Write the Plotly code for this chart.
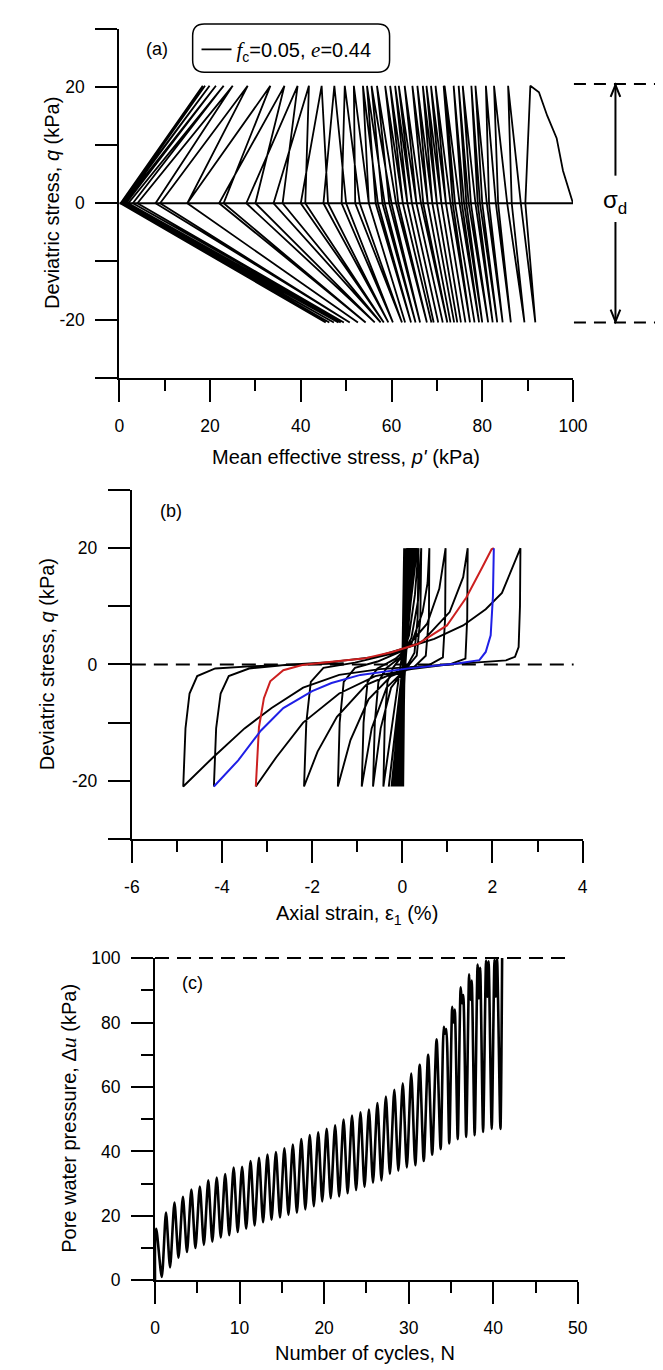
import plotly.graph_objects as go

# ---------------- Panel (a): effective stress path ----------------
iso_p = [0, 100]
iso_q = [0, 0]
p_init = [100, 97.8, 96.4, 94.3, 92.5]
q_init = [0, 5.6, 11.2, 15.1, 19.1]
# p' (kPa) per cycle at q = +20 (top), q = 0 unloading, q = -20 (bottom), q = 0 reloading
p_top = [90.6, 85.7, 82.6, 80.8, 78.5, 77.6, 75.7, 74.8, 73.7, 71.7, 71.5, 69.7, 68.7, 67.7,
         66.9, 65.7, 64.6, 62.9, 61.6, 60.8, 59.7, 58.6, 56.8, 55.6, 54.6, 53.7, 51.7, 49.7,
         47.4, 44.6, 41.8, 39.3, 36.4, 33.3, 28.3, 25.0, 23.0, 21.3, 19.9, 18.9, 18.4]
p_zero_down = [89.5, 86.5, 83.5, 81.5, 80, 79, 77.5, 76.5, 75.5, 74, 73.5, 72, 71, 70, 69, 68,
               67, 65.5, 64.5, 63.5, 62.5, 61.5, 59.5, 58, 56.5, 55, 52, 49, 45, 40, 34, 28,
               22, 15, 9, 4, 2, 1, 0.6, 0.4, 0.3]
p_bot = [91.7, 89.3, 86.3, 84.5, 83.3, 82.3, 81.3, 80.0, 79.3, 78.3, 77.3, 76.3, 75.3, 74.5,
         73.8, 73.0, 72.3, 71.3, 70.3, 69.3, 68.8, 67.8, 66.3, 65.3, 64.3, 63.0, 62.3, 60.3,
         59.3, 58.3, 57.6, 56.3, 54.3, 52.6, 50.8, 49.5, 48.8, 48.3, 47.3, 46.3, 45.5]
p_zero_up = [88.5, 85.5, 83, 81, 79.5, 78.5, 77, 76, 75, 74, 73, 72, 71, 70, 69, 68, 66.5, 65.5,
             64.5, 63.5, 62.5, 61, 60, 58.5, 57, 55, 53, 50, 46, 41, 36, 30, 23, 15, 8, 3, 1.5,
             0.8, 0.5, 0.3, 0.2]
q_top_a, q_bot_a = 20.2, -20.5

# ---------------- Panel (b): q vs axial strain ----------------
eps_max_band = [0.04, 0.07, 0.09, 0.1, 0.11, 0.12, 0.13, 0.13, 0.14, 0.15, 0.15, 0.16, 0.17, 0.17,
                0.18, 0.18, 0.19, 0.2, 0.2, 0.21, 0.21, 0.22, 0.22, 0.23, 0.24, 0.24, 0.25, 0.26,
                0.27, 0.28, 0.29, 0.3, 0.31, 0.33]
eps_min_band = [0.02, 0.01, 0.0, -0.01, -0.02, -0.02, -0.03, -0.03, -0.04, -0.04, -0.05, -0.05,
                -0.06, -0.06, -0.07, -0.07, -0.08, -0.08, -0.09, -0.09, -0.1, -0.1, -0.11, -0.11,
                -0.12, -0.13, -0.14, -0.15, -0.16, -0.18, -0.2, -0.24, -0.3, -0.42]
q_top_b, q_bot_b = 20, -21

L34_e = [-0.42, -0.39, -0.33, -0.2, 0.0, 0.15, 0.28, 0.36]
L34_q = [-21, -10, -3, -0.5, 1.5, 5, 12, 20]
U34_e = [0.36, 0.34, 0.27, 0.05, -0.25, -0.48, -0.65]
U34_q = [20, 8, 2, -1, -4, -11, -21]
L35_e = [-0.65, -0.61, -0.53, -0.35, -0.05, 0.2, 0.35, 0.42]
L35_q = [-21, -10, -3, -0.6, 1.2, 4.5, 11, 20]
U35_e = [0.42, 0.4, 0.32, 0.05, -0.35, -0.68, -0.9]
U35_q = [20, 8, 1.5, -1, -4, -11, -21]
L36_e = [-0.9, -0.86, -0.77, -0.55, -0.15, 0.2, 0.45, 0.56, 0.6]
L36_q = [-21, -10, -3, -0.7, 1.0, 3.5, 9, 14, 20]
U36_e = [0.6, 0.59, 0.52, 0.25, -0.25, -0.75, -1.15, -1.43]
U36_q = [20, 8, 1.5, -0.5, -2, -6, -13, -21]
L37_e = [-1.43, -1.39, -1.3, -1.05, -0.55, 0.05, 0.55, 0.82, 0.96]
L37_q = [-21, -10, -3, -0.6, 0.5, 2.5, 7, 13, 20]
U37_e = [0.96, 0.95, 0.9, 0.55, -0.1, -0.8, -1.45, -1.88, -2.18]
U37_q = [20, 8, 1.2, -0.3, -1.2, -3.5, -9, -15, -21]
L38_e = [-2.18, -2.13, -2.03, -1.75, -1.05, -0.25, 0.45, 1.05, 1.35, 1.45]
L38_q = [-21, -10, -3, -0.6, 0.3, 1.8, 4, 9, 15, 20]
U38_e = [1.45, 1.44, 1.4, 1.05, 0.2, -0.6, -1.4, -2.2, -2.8, -3.25]
U38_q = [20, 8, 1.0, 0, -0.8, -2, -5, -10, -16, -21]
red_e = [-3.25, -3.18, -3.07, -2.93, -2.64, -2.22, -1.57, -0.86, -0.22, 0.35, 0.99, 1.42, 1.78,
         1.98, 2.03]
red_q = [-21, -10.8, -5.8, -2.9, -1.0, -0.1, 0.45, 1.0, 2.15, 3.56, 6.7, 11.5, 16.8, 19.8, 20]
blue_e = [2.03, 2.01, 1.96, 1.85, 1.71, 1.21, 0.14, -0.93, -1.57, -2.0, -2.64, -3.14, -3.64,
          -4.18]
blue_q = [20, 11.7, 5, 2.15, 0.73, 0.17, -0.68, -1.8, -3.2, -4.6, -7.5, -11.4, -16.5, -21]
L40_e = [-4.18, -4.13, -4.03, -3.85, -3.4, -2.6, -1.6, -0.6, 0.14, 0.71, 1.35, 1.85, 2.21, 2.42,
         2.58, 2.62]
L40_q = [-21, -11, -5, -2, -0.7, -0.1, 0.4, 1.3, 3.0, 4.4, 6.7, 9.5, 12.3, 16.4, 19.5, 20]
U40_e = [2.62, 2.61, 2.58, 2.5, 2.3, 1.6, 0.5, -0.5, -1.4, -2.2, -2.9, -3.5, -4.2, -4.86]
U40_q = [20, 10, 3, 1.3, 0.7, 0.3, -0.3, -0.8, -1.8, -4, -7.5, -11, -16, -21]
L41_e = [-4.86, -4.81, -4.72, -4.55, -4.15, -3.3, -2.3, -1.3]
L41_q = [-21, -11, -5, -2, -0.7, -0.3, -0.1, 0.2]
zero_line_e = [-6, 3.8]
zero_line_q = [0, 0]

# ---------------- Panel (c): excess pore pressure vs cycles ----------------
start_N = [0, 0.03]
start_u = [0, 14]
peak_N = [0.15, 1.3, 2.3, 3.3, 4.3, 5.3, 6.3, 7.3, 8.3, 9.3, 10.3, 11.3, 12.3, 13.3, 14.3, 15.3,
          16.3, 17.3, 18.3, 19.3, 20.3, 21.3, 22.3, 23.3, 24.3, 25.3, 26.3, 27.3, 28.3, 29.3,
          30.3, 31.3, 32.3, 33.3]
peak_u = [16, 21, 24.1, 25.9, 28.2, 29.1, 31, 31.9, 33, 35, 35.2, 37, 38, 39, 39.8, 41, 42.1,
          43.8, 45.1, 45.9, 47, 48.1, 49.9, 51.1, 52.1, 53, 55, 57, 59.1, 61.1, 64.2, 66.9, 70,
          74.8]
late_N1 = [34.15, 35.15, 36.15, 37.15, 38.15, 39.15, 40.15]
late_u1 = [78.7, 84.9, 90.9, 95, 98, 99.2, 99.5]
late_Nn = [34.3, 35.3, 36.3, 37.3, 38.3, 39.3, 40.3]
late_un = [76.5, 80, 86, 87, 87.5, 88, 88]
late_N2 = [34.45, 35.45, 36.45, 37.45, 38.45, 39.45, 40.45]
late_u2 = [78, 84, 88.5, 93, 97, 99, 100]
trough_N = [0.8, 1.78, 2.78, 3.78, 4.78, 5.78, 6.78, 7.78, 8.78, 9.78, 10.78, 11.78, 12.78,
            13.78, 14.78, 15.78, 16.78, 17.78, 18.78, 19.78, 20.78, 21.78, 22.78, 23.78, 24.78,
            25.78, 26.78, 27.78, 28.78, 29.78, 30.78, 31.78, 32.78, 33.78, 34.8, 35.8, 36.8,
            37.8, 38.8, 39.82, 40.85]
trough_u = [1, 4, 7, 8.8, 10, 11, 12, 13.3, 14, 15, 16, 17, 18, 18.8, 19.5, 20.3, 21, 22, 23,
            24.5, 25.5, 26, 27, 28, 29, 30.3, 31, 33, 34, 35, 35.7, 37, 39, 40.7, 42.5, 43.8,
            44.5, 45, 46, 47, 47]
end_N = [41.05]
end_u = [100]

# ---------------- build series ----------------
ax_p = list(p_init) + [p_top[0]]
ax_q = list(q_init) + [q_top_a]
for k in range(len(p_top)):
    ax_p += [p_zero_down[k], p_bot[k], p_zero_up[k]]
    ax_q += [0, q_bot_a, 0]
    if k + 1 < len(p_top):
        ax_p.append(p_top[k + 1])
        ax_q.append(q_top_a)

band_e, band_q = [0.0], [0.0]
for mx, mn in zip(eps_max_band, eps_min_band):
    band_e += [mx, mn]
    band_q += [q_top_b, q_bot_b]

black_e, black_q = list(band_e), list(band_q)
for e, q in [(L34_e, L34_q), (U34_e, U34_q), (L35_e, L35_q), (U35_e, U35_q), (L36_e, L36_q),
             (U36_e, U36_q), (L37_e, L37_q), (U37_e, U37_q), (L38_e, L38_q), (U38_e, U38_q)]:
    black_e += e[1:]
    black_q += q[1:]
black2_e = L40_e + U40_e[1:] + L41_e[1:]
black2_q = L40_q + U40_q[1:] + L41_q[1:]

cN, cu = list(start_N), list(start_u)
late = 0
for k in range(len(trough_N)):
    if k < len(peak_N):
        cN.append(peak_N[k]); cu.append(peak_u[k])
    else:
        cN += [late_N1[late], late_Nn[late], late_N2[late]]
        cu += [late_u1[late], late_un[late], late_u2[late]]
        late += 1
    cN.append(trough_N[k]); cu.append(trough_u[k])
cN += end_N
cu += end_u

# ---------------- figure ----------------
W, H = 663, 1370
def px(x):
    return x / W
def py(y):
    return 1 - y / H

FONT = "Liberation Sans, Arial, sans-serif"
TICK = 17.5
TITLE = 20

def it(s, size, serif=False):
    fam = "font-family:'Liberation Serif';" if serif else ""
    return f"<span style=\"{fam}font-style:italic;font-size:{size}px\">{s}</span>"

def sub(s, size, shift=5):
    # subscript via baseline shift (avoids zero-width helper glyphs of <sub>)
    return f"<span style=\"font-size:{size}px;baseline-shift:-{shift}px\">{s}</span>"

fig = go.Figure()

fig.add_trace(go.Scatter(x=iso_p, y=iso_q, mode="lines", line=dict(color="black", width=2),
                         xaxis="x", yaxis="y", showlegend=False, hoverinfo="skip"))
fig.add_trace(go.Scatter(x=ax_p, y=ax_q, mode="lines", line=dict(color="black", width=1.8),
                         xaxis="x", yaxis="y", showlegend=True,
                         name=it("f", 21, True) + sub("c", 14) + "=0.05, " + it("e", 21, True) + "=0.44"))

fig.add_trace(go.Scatter(x=zero_line_e, y=zero_line_q, mode="lines",
                         line=dict(color="black", width=2, dash="14px,8px"),
                         xaxis="x2", yaxis="y2", showlegend=False))
fig.add_trace(go.Scatter(x=black_e, y=black_q, mode="lines", line=dict(color="black", width=1.9),
                         xaxis="x2", yaxis="y2", showlegend=False))
fig.add_trace(go.Scatter(x=black2_e, y=black2_q, mode="lines", line=dict(color="black", width=1.9),
                         xaxis="x2", yaxis="y2", showlegend=False))
fig.add_trace(go.Scatter(x=red_e, y=red_q, mode="lines", line=dict(color="#cc1f1f", width=2),
                         xaxis="x2", yaxis="y2", showlegend=False))
fig.add_trace(go.Scatter(x=blue_e, y=blue_q, mode="lines", line=dict(color="#1f1fe6", width=2),
                         xaxis="x2", yaxis="y2", showlegend=False))

fig.add_trace(go.Scatter(x=cN, y=cu, mode="lines",
                         line=dict(color="black", width=2.6, shape="spline", smoothing=0.7),
                         xaxis="x3", yaxis="y3", showlegend=False))

common = dict(showline=True, linecolor="black", linewidth=2, ticks="outside", tickcolor="black",
              tickwidth=2, showgrid=False, zeroline=False,
              tickfont=dict(family=FONT, size=TICK, color="black"))

def minor(vals, ln):
    return dict(tickmode="array", tickvals=vals, ticks="outside", ticklen=ln, tickwidth=2,
                tickcolor="black", showgrid=False)

fig.update_layout(
    width=W, height=H, margin=dict(l=0, r=0, t=0, b=0),
    paper_bgcolor="white", plot_bgcolor="white",
    font=dict(family=FONT, size=18, color="black"),
    xaxis=dict(domain=[px(107), px(577)], anchor="y", range=[0, 100],
               tickmode="array", tickvals=[0, 20, 40, 60, 80, 100], ticklen=22,
               minor=minor([10, 30, 50, 70, 90], 11), ticklabelstandoff=9, **common),
    yaxis=dict(domain=[py(365), py(11)], anchor="x", range=[-30, 30],
               tickmode="array", tickvals=[-20, 0, 20], ticktext=["-20", "0", "20"], ticklen=22,
               minor=minor([-30, -10, 10, 30], 22), ticklabelstandoff=7, **common),
    xaxis2=dict(domain=[px(120), px(587)], anchor="y2", range=[-6, 4],
                tickmode="array", tickvals=[-6, -4, -2, 0, 2, 4],
                ticktext=["-6", "-4", "-2", "0", "2", "4"], ticklen=22,
                minor=minor([-5, -3, -1, 1, 3], 11), ticklabelstandoff=9, **common),
    yaxis2=dict(domain=[py(833), py(479)], anchor="x2", range=[-30, 30],
                tickmode="array", tickvals=[-20, 0, 20], ticktext=["-20", "0", "20"], ticklen=22,
                minor=minor([-30, -10, 10, 30], 22), ticklabelstandoff=7, **common),
    xaxis3=dict(domain=[px(144), px(582)], anchor="y3", range=[0, 50],
                tickmode="array", tickvals=[0, 10, 20, 30, 40, 50], ticklen=22,
                minor=minor([5, 15, 25, 35, 45], 11), ticklabelstandoff=9, **common),
    yaxis3=dict(domain=[py(1281), py(954)], anchor="x3", range=[0, 100],
                tickmode="array", tickvals=[0, 20, 40, 60, 80, 100], ticklen=22,
                minor=minor([10, 30, 50, 70, 90], 12), ticklabelstandoff=7, **common),
    showlegend=True,
    legend=dict(x=px(187), y=py(12), xanchor="left", yanchor="top", bgcolor="rgba(0,0,0,0)",
                borderwidth=0, font=dict(family=FONT, size=20, color="black"),
                itemwidth=30, tracegroupgap=0),
)

# rounded legend frame
bx0, bx1, by0, by1, r = 183, 387, 6, 55, 12
path = (f"M {px(bx0 + r)},{py(by0)} L {px(bx1 - r)},{py(by0)} Q {px(bx1)},{py(by0)} {px(bx1)},{py(by0 + r)} "
        f"L {px(bx1)},{py(by1 - r)} Q {px(bx1)},{py(by1)} {px(bx1 - r)},{py(by1)} "
        f"L {px(bx0 + r)},{py(by1)} Q {px(bx0)},{py(by1)} {px(bx0)},{py(by1 - r)} "
        f"L {px(bx0)},{py(by0 + r)} Q {px(bx0)},{py(by0)} {px(bx0 + r)},{py(by0)} Z")
shapes = [dict(type="path", path=path, xref="paper", yref="paper", line=dict(color="black", width=1.5))]

# sigma_d dashed reference lines (q = +/-20.5 in panel a)
for yy in (67, 309):
    shapes.append(dict(type="line", xref="paper", yref="paper", x0=px(578), x1=px(663), y0=py(yy), y1=py(yy),
                       line=dict(color="black", width=2, dash="12px,8px")))
# sigma_d double arrow (shafts + open heads)
ax_x = 621
for y0, y1 in ((68, 160), (207, 308)):
    shapes.append(dict(type="line", xref="paper", yref="paper", x0=px(ax_x), x1=px(ax_x), y0=py(y0), y1=py(y1),
                       line=dict(color="black", width=2)))
shapes.append(dict(type="path", xref="paper", yref="paper",
                   path=f"M {px(ax_x - 5)},{py(80)} L {px(ax_x)},{py(68)} L {px(ax_x + 5)},{py(80)}",
                   line=dict(color="black", width=2)))
shapes.append(dict(type="path", xref="paper", yref="paper",
                   path=f"M {px(ax_x - 5)},{py(296)} L {px(ax_x)},{py(308)} L {px(ax_x + 5)},{py(296)}",
                   line=dict(color="black", width=2)))
# panel (c) dashed line at 100 kPa
shapes.append(dict(type="line", xref="paper", yref="paper", x0=px(144), x1=px(572), y0=py(954), y1=py(954),
                   line=dict(color="black", width=2, dash="14px,8px")))

ann = []
def txt(x, y, s, size=18, angle=0, family=FONT):
    ann.append(dict(x=px(x), y=py(y), xref="paper", yref="paper", text=s, showarrow=False,
                    textangle=angle, xanchor="center", yanchor="middle",
                    font=dict(family=family, size=size, color="black")))

txt(146, 31, "(a)")
txt(161, 500, "(b)")
txt(183, 979, "(c)")
txt(621, 187, "σ" + sub("d", 17, 6), size=24)
txt(38, 188, "Deviatric stress, " + it("q", TITLE) + " (kPa)", size=TITLE, angle=-90)
txt(342, 446, "Mean effective stress, " + it("p'", TITLE) + " (kPa)", size=TITLE)
txt(33, 656, "Deviatric stress, " + it("q", TITLE) + " (kPa)", size=TITLE, angle=-90)
txt(353, 910, "Axial strain, ε" + sub("1", 14) + " (%)", size=TITLE)
txt(55, 1117, "Pore water pressure, Δ" + it("u", 22, True) + " (kPa)", size=TITLE, angle=-90)
txt(362, 1355, "Number of cycles, N", size=TITLE)

fig.update_layout(shapes=shapes, annotations=ann)
fig.write_html("out.html")
